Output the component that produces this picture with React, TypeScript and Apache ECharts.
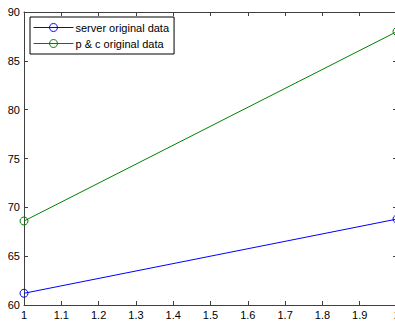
import React, { useEffect, useRef } from "react";
import * as echarts from "echarts";

const seriesNames = ["server original data", "p & c original data"];
const xValues = [1, 2];
const serverValues = [61.2, 68.8];
const pcValues = [68.6, 88.0];
const colors = ["#0000ff", "#008000"];

export default function App() {
  const ref = useRef<HTMLDivElement>(null);
  useEffect(() => {
    if (!ref.current) return;
    const chart = echarts.init(ref.current, null, { renderer: "svg" });
    const axisColor = "#404040";
    const font = "Liberation Sans, Arial, sans-serif";
    const common = {
      axisLine: { show: true, lineStyle: { color: axisColor, width: 1 } },
      axisTick: { show: true, inside: true, length: 4, lineStyle: { color: axisColor } },
      splitLine: { show: false },
    };
    const mkSeries = (i: number, vals: number[]) => ({
      name: seriesNames[i],
      type: "line",
      data: xValues.map((x, k) => [x, vals[k]]),
      symbol: "circle",
      symbolSize: 8,
      clip: false,
      color: colors[i],
      itemStyle: { color: "rgba(255,255,255,0)", borderColor: colors[i], borderWidth: 1 },
      lineStyle: { color: colors[i], width: 1 },
      emphasis: { disabled: true },
    });
    chart.setOption({
      animation: false,
      backgroundColor: "#ffffff",
      grid: { left: 24, top: 12, right: 2, bottom: 17, containLabel: false, outerBoundsMode: "none" },
      legend: {
        orient: "vertical",
        left: 30,
        top: 17,
        padding: [5, 5, 5, 3],
        itemGap: 5,
        itemWidth: 40,
        itemHeight: 10,
        borderColor: "#000",
        borderWidth: 1,
        backgroundColor: "#fff",
        lineStyle: { width: 1 },
        itemStyle: { borderWidth: 1 },
        textStyle: { fontSize: 11, color: "#000", fontFamily: font, padding: [0, 0, 0, -3] },
        data: seriesNames,
      },
      xAxis: [
        {
          type: "value",
          min: 1,
          max: 2,
          interval: 0.1,
          ...common,
          axisLabel: {
            color: "#000",
            fontSize: 11,
            fontFamily: font,
            margin: 4,
            formatter: (v: number) => String(+v.toFixed(1)),
          },
        },
        {
          type: "value",
          position: "top",
          min: 1,
          max: 2,
          interval: 0.1,
          ...common,
          axisLabel: { show: false },
        },
      ],
      yAxis: [
        {
          type: "value",
          min: 60,
          max: 90,
          interval: 5,
          ...common,
          axisLabel: { color: "#000", fontSize: 11, fontFamily: font, margin: 4 },
        },
        {
          type: "value",
          position: "right",
          min: 60,
          max: 90,
          interval: 5,
          ...common,
          axisLabel: { show: false },
        },
      ],
      series: [mkSeries(0, serverValues), mkSeries(1, pcValues)],
    });
    return () => chart.dispose();
  }, []);
  return (
    <div style={{ position: "absolute", left: 0, top: 0, width: 395, height: 322, overflow: "hidden", background: "#fff" }}>
      <div ref={ref} style={{ width: 399, height: 322 }} />
    </div>
  );
}
